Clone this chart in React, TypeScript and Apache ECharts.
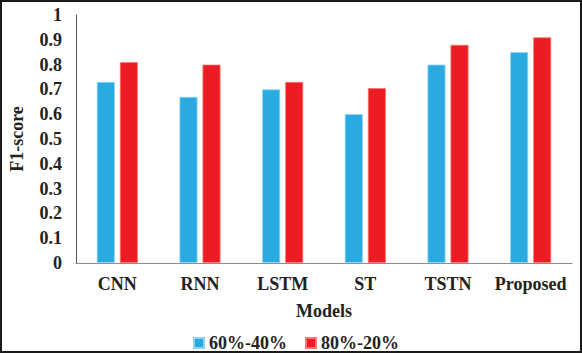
import React, { useEffect, useRef } from "react";
import * as echarts from "echarts";

const categories = ["CNN", "RNN", "LSTM", "ST", "TSTN", "Proposed"];
const split6040 = [0.73, 0.67, 0.70, 0.60, 0.80, 0.85];
const split8020 = [0.81, 0.80, 0.73, 0.705, 0.88, 0.91];
const seriesNames = ["60%-40%", "80%-20%"];

const FONT = "'Liberation Serif', 'Times New Roman', serif";

export default function App() {
  const ref = useRef<HTMLDivElement>(null);
  useEffect(() => {
    document.body.style.margin = "0";
    const chart = echarts.init(ref.current!, null, { renderer: "svg" });
    chart.setOption({
      animation: false,
      backgroundColor: "#ffffff",
      textStyle: { fontFamily: FONT },
      grid: { left: 68, right: 10, top: 15, bottom: 90 },
      legend: {
        left: 188,
        top: 329,
        itemWidth: 10,
        itemHeight: 10,
        itemGap: 18,
        icon: "rect",
        textStyle: { fontFamily: FONT, fontWeight: "bold", fontSize: 18, color: "#222" },
        data: seriesNames,
      },
      xAxis: {
        type: "category",
        data: categories,
        name: "Models",
        nameLocation: "middle",
        nameGap: 39,
        nameTextStyle: { fontFamily: FONT, fontWeight: "bold", fontSize: 18, color: "#222" },
        axisLine: { lineStyle: { color: "#8c8c8c", width: 1 } },
        axisTick: { show: false },
        axisLabel: { interval: 0, fontFamily: FONT, fontWeight: "bold", fontSize: 18, color: "#222", margin: 12 },
      },
      yAxis: {
        type: "value",
        min: 0,
        max: 1,
        interval: 0.1,
        name: "F1-score",
        nameLocation: "middle",
        nameGap: 50,
        nameTextStyle: { fontFamily: FONT, fontWeight: "bold", fontSize: 18, color: "#222" },
        axisLine: { show: true, lineStyle: { color: "#555", width: 1 } },
        axisTick: { show: false },
        splitLine: { show: false },
        axisLabel: { fontFamily: FONT, fontWeight: "bold", fontSize: 18, color: "#222", margin: 14 },
      },
      series: [
        {
          name: seriesNames[0],
          type: "bar",
          data: split6040,
          barWidth: 18,
          barGap: "28%",
          itemStyle: { color: "#29abe2", borderColor: "#8fd3f2", borderWidth: 0.8 },
        },
        {
          name: seriesNames[1],
          type: "bar",
          data: split8020,
          barWidth: 18,
          barGap: "28%",
          itemStyle: { color: "#ed1c24", borderColor: "#f47a6e", borderWidth: 0.8 },
        },
      ],
      graphic: [
        {
          type: "rect",
          shape: { x: 1, y: 1, width: 580, height: 351 },
          style: { fill: "none", stroke: "#1a1a1a", lineWidth: 2 },
          silent: true,
        },
      ],
    });
    return () => chart.dispose();
  }, []);
  return <div ref={ref} style={{ width: 582, height: 353 }} />;
}
